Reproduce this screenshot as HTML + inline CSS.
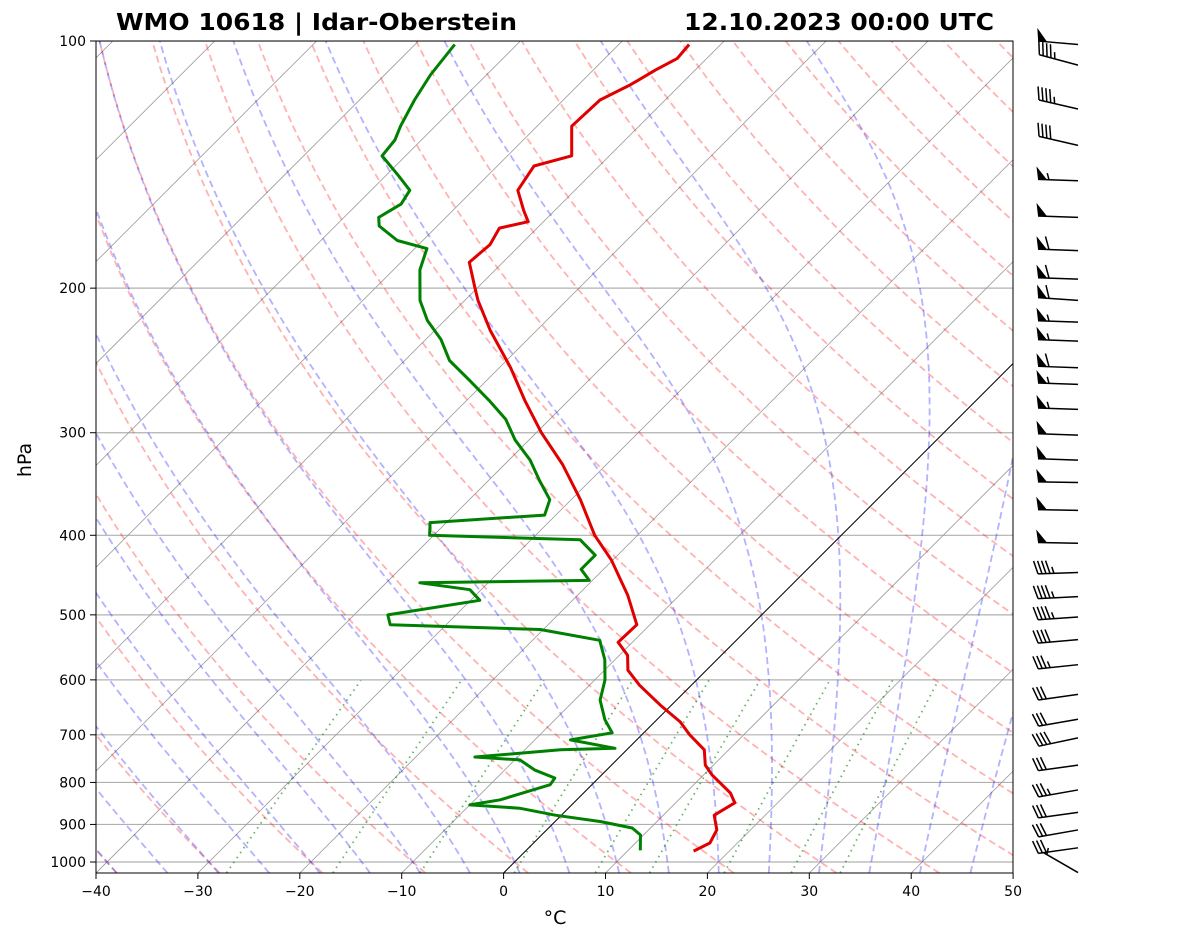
<!DOCTYPE html>
<html><head><meta charset="utf-8">
<style>
body{margin:0;background:#fff;}
svg text{font-family:"DejaVu Sans","Liberation Sans",sans-serif;}
</style></head>
<body>
<svg id="chart" width="1181" height="941" xmlns="http://www.w3.org/2000/svg">
<defs><clipPath id="clip"><rect x="96" y="41" width="917" height="832"/></clipPath></defs>
<g id="bg" clip-path="url(#clip)"></g>
<g id="series" clip-path="url(#clip)"></g>
<rect x="96" y="41" width="917" height="832" fill="none" stroke="#000" stroke-width="1"/>
<g id="axes"></g>
<g id="barbs"></g>
<text x="116" y="30" font-size="23" font-weight="bold" textLength="401" lengthAdjust="spacingAndGlyphs">WMO 10618 | Idar-Oberstein</text>
<text x="684" y="30" font-size="23" font-weight="bold" textLength="310" lengthAdjust="spacingAndGlyphs">12.10.2023 00:00 UTC</text>
<text x="555" y="924" font-size="19" text-anchor="middle">°C</text>
<text x="31" y="460" font-size="19" text-anchor="middle" transform="rotate(-90 31 460)">hPa</text>
</svg>
<script>
const tempP=[970,948,914,877,847,824,783,762,730,700,675,644,609,584,560,540,514,473,429,400,362,328,300,274,250,225,207,200,186,177,169,166,161,152,142,138,127,118,113,108.5,105,101];
const tempT=[16.5,17.3,16.7,15.0,15.8,14.4,10.8,9.2,7.6,4.7,2.5,-1.1,-5.1,-7.7,-9.2,-11.4,-11.3,-15.1,-20.1,-24.2,-29.1,-34.3,-39.5,-44.3,-48.9,-54.6,-58.7,-60.2,-63.3,-63.0,-63.7,-61.5,-63,-65.6,-66.4,-63.7,-66.6,-66.4,-64.9,-63.9,-62.9,-63.1];
const dewP=[968,927,909,893,877,860,852,840,805,790,773,751,745,730,727,710,696,671,635,600,567,537,521,514,500,480,466,457,454,440,423,405,400,386,378,362,343,324,306,289,274,259,245,231,219,207,190,179,175,168,164,158,152,146,138,132,127,118,110,101];
const dewT=[11.2,9.7,8.2,4.5,-0.6,-4.8,-10.0,-7.5,-4.1,-4.3,-7.0,-9.5,-14.2,-6.5,-1.3,-6.5,-3.1,-5.1,-7.5,-9.0,-11.0,-13.4,-20.3,-35.5,-36.7,-29.1,-31.1,-36.7,-20.3,-22.2,-22.2,-25.2,-40.4,-41.6,-31.1,-32.1,-35.0,-37.9,-41.4,-44.3,-47.8,-51.7,-55.6,-58.5,-61.7,-64.4,-67.4,-68.8,-72.5,-75.7,-76.6,-75.7,-76.2,-78.7,-82.3,-82.6,-83.4,-84.6,-85.5,-86.1];
const barbP=[101,107,121,134,148,164,180,195,207,220,232,250,262,281,302,324,345,373,409,444,475,503,536,575,625,670,706,762,817,870,914,961,1030];
const barbSpd=[50,45,45,40,55,50,60,60,60,55,55,60,55,55,50,50,50,50,50,45,45,45,40,35,30,30,40,30,35,30,30,30,5];
const barbDir=[275,285,283,283,272,272,272,272,274,272,272,272,272,272,272,272,271,271,271,268,267,266,265,264,262,260,258,262,260,262,260,262,300];
const xTicks=[-40,-30,-20,-10,0,10,20,30,40,50];
const pTicks=[100,200,300,400,500,600,700,800,900,1000];

const NS="http://www.w3.org/2000/svg";
const PB=1031;
function Y(p){return 41+821*Math.log10(p/100);}
function X(T,p){return 96+(T+40)*10.19+(873-Y(p));}
function mk(tag,attrs,parent){const e=document.createElementNS(NS,tag);for(const k in attrs)e.setAttribute(k,attrs[k]);parent.appendChild(e);return e;}
function pathFrom(ps,ts){let d='';for(let i=0;i<ps.length;i++){d+=(i?'L':'M')+X(ts[i],ps[i]).toFixed(1)+','+Y(ps[i]).toFixed(1);}return d;}
const bg=document.getElementById('bg'),ser=document.getElementById('series'),ax=document.getElementById('axes'),bb=document.getElementById('barbs');
const plevs=[];for(let p=PB;p>=95;p-=5)plevs.push(p);

pTicks.forEach(p=>{const l=mk('line',{x1:96,x2:1013,y1:Y(p),y2:Y(p),stroke:'#b0b0b0','stroke-width':1.2},bg);

});
for(let T=-150;T<=50;T+=10){const l=mk('line',{x1:X(T,PB),y1:Y(PB),x2:X(T,90),y2:Y(90),stroke:'#999','stroke-width':0.8},bg);

}
for(let t0=-40;t0<=200;t0+=10){const ts=plevs.map(p=>(t0+273.15)*Math.pow(p/1000,0.2857)-273.15);
const e=mk('path',{d:pathFrom(plevs,ts),fill:'none',stroke:'rgba(255,0,0,0.3)','stroke-width':1.8,'stroke-dasharray':'7,4'},bg);

}
function es(T){return 6.112*Math.exp(17.67*T/(T+243.5));}
function moist(t0){const out=[];const ps=[];let T=t0+273.15;
 const step=(T,p,dp)=>{const rs=0.622*es(T-273.15)/(p-es(T-273.15));const Rd=287,cp=1005,Lv=2.5e6;
  const dTdp=(Rd*T+Lv*rs)/(cp+Lv*Lv*rs*0.622/(Rd*T*T))/p;return T+dTdp*dp;};
 let Tb=T;for(let q=1000;q<PB;q+=1)Tb=step(Tb,q,1);
 let Tc=Tb;for(let q=PB;q>=100;q-=1){if(q%5===PB%5||q===100){ps.push(q);out.push(Tc-273.15);}Tc=step(Tc,q,-1);}
 return [ps,out];}
for(let t0=-50;t0<=45;t0+=5){const [ps,ts]=moist(t0);
const e=mk('path',{d:pathFrom(ps,ts),fill:'none',stroke:'rgba(0,0,255,0.3)','stroke-width':1.8,'stroke-dasharray':'7,4'},bg);

}
[0.0004,0.001,0.002,0.004,0.007,0.01,0.016,0.024,0.032].forEach(w=>{const ps=[],ts=[];
 for(let p=PB;p>=600;p-=10){const e=w*p/(0.622+w);const l=Math.log(e/6.112);ps.push(p);ts.push(243.5*l/(17.67-l));}
 const e=mk('path',{d:pathFrom(ps,ts),fill:'none',stroke:'rgba(0,128,0,0.6)','stroke-width':1.8,'stroke-dasharray':'1.5,4.5'},bg);
 
 });
const z=mk('line',{x1:X(0,PB),y1:Y(PB),x2:X(0,90),y2:Y(90),stroke:'#000','stroke-width':1},bg);


const tl=mk('path',{d:pathFrom(tempP,tempT),fill:'none',stroke:'#e00000','stroke-width':3,'stroke-linejoin':'round'},ser);


const dl=mk('path',{d:pathFrom(dewP,dewT),fill:'none',stroke:'#008000','stroke-width':3,'stroke-linejoin':'round'},ser);


xTicks.forEach(t=>{const x=96+(t+40)*10.19;
 const l=mk('line',{x1:x,x2:x,y1:873,y2:879,stroke:'#000'},ax);
 
 
 const tx=mk('text',{x:x,y:896,'font-size':14,'text-anchor':'middle'},ax);tx.textContent=(t<0?'\u2212'+(-t):''+t);
 
 });
pTicks.forEach(p=>{const y=Y(p);
 const l=mk('line',{x1:90,x2:96,y1:y,y2:y,stroke:'#000'},ax);
 
 
 const tx=mk('text',{x:86,y:y+5,'font-size':14,'text-anchor':'end'},ax);tx.textContent=p;
 
 });
barbP.forEach((p,i)=>{const y=Y(p);const x0=1078;const s=barbSpd[i];const d=barbDir[i]*Math.PI/180;
 const ux=Math.sin(d),uy=-Math.cos(d);const L=40;
 const g=mk('g',{},bb);
 
 
 const ex=x0+ux*L,ey=y+uy*L;
 let pxv=uy, pyv=-ux; if(pyv>0){pxv=-pxv;pyv=-pyv;}
 mk('line',{x1:x0,y1:y,x2:ex,y2:ey,stroke:'#000','stroke-width':1.5},g);
 let rem=Math.round(s/5)*5;let pos=0;
 const at=(k)=>[ex-ux*k,ey-uy*k];
 while(rem>=50){const [ax1,ay1]=at(pos);const [ax2,ay2]=at(pos+9);
  mk('polygon',{points:`${ax1},${ay1} ${ax2},${ay2} ${ax1+pxv*13+ux*2},${ay1+pyv*13+uy*2}`,fill:'#000'},g);pos+=11;rem-=50;}
 while(rem>=10){const [a1,b1]=at(pos);mk('line',{x1:a1,y1:b1,x2:a1+pxv*13+ux*4,y2:b1+pyv*13+uy*4,stroke:'#000','stroke-width':1.5},g);pos+=4;rem-=10;}
 if(rem>=5){if(pos===0)pos=4;const [a1,b1]=at(pos);mk('line',{x1:a1,y1:b1,x2:a1+pxv*6.5+ux*2,y2:b1+pyv*6.5+uy*2,stroke:'#000','stroke-width':1.5},g);}
});
</script>
</body></html>
